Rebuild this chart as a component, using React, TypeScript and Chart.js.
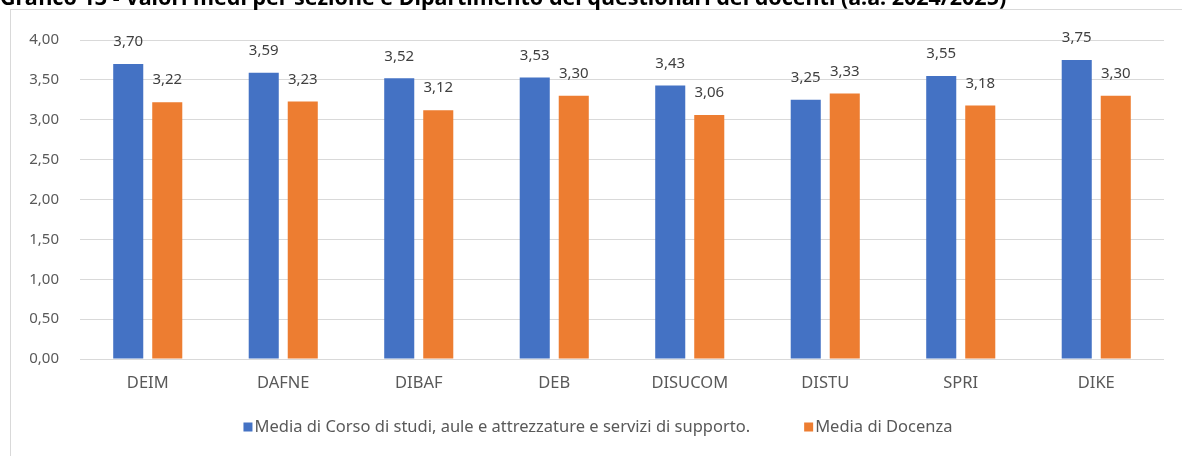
import React, { useEffect, useRef } from "react";
import { Chart, registerables } from "chart.js";

Chart.register(...registerables);

const TITLE = "Grafico 13 - Valori medi per sezione e Dipartimento dei questionari dei docenti (a.a. 2024/2025)";
const categories = ["DEIM", "DAFNE", "DIBAF", "DEB", "DISUCOM", "DISTU", "SPRI", "DIKE"];
const seriesNames = [
  "Media di Corso di studi, aule e attrezzature e servizi di supporto.",
  "Media di Docenza",
];
const corsoValues = [3.7, 3.59, 3.52, 3.53, 3.43, 3.25, 3.55, 3.75];
const docenzaValues = [3.22, 3.23, 3.12, 3.3, 3.06, 3.33, 3.18, 3.3];
const colors = ["#4472C4", "#ED7D31"];
const yMin = 0;
const yMax = 4;
const yStep = 0.5;

const FONT = "'Noto Sans', 'Open Sans', sans-serif";
const fmt = (v: number) => v.toFixed(2).replace(".", ",");

const dataLabelPlugin = {
  id: "dataLabels",
  afterDatasetsDraw(chart: any) {
    const ctx = chart.ctx;
    ctx.save();
    ctx.font = `15px ${FONT}`;
    ctx.fillStyle = "#404040";
    ctx.textAlign = "center";
    ctx.textBaseline = "middle";
    chart.data.datasets.forEach((ds: any, i: number) => {
      const meta = chart.getDatasetMeta(i);
      meta.data.forEach((bar: any, j: number) => {
        ctx.fillText(fmt(ds.data[j]), bar.x, bar.y - 22);
      });
    });
    ctx.restore();
  },
};

const legendPlugin = {
  id: "customLegend",
  afterDraw(chart: any) {
    const ctx = chart.ctx;
    ctx.save();
    ctx.font = `16.5px ${FONT}`;
    const box = 9;
    const boxGap = 11;
    const itemGap = 54;
    const items = chart.data.datasets.map((ds: any) => ({
      text: ds.label,
      color: ds.backgroundColor,
      w: ctx.measureText(ds.label).width,
    }));
    const total = items.reduce((s: number, it: any, i: number) => s + boxGap + it.w + (i > 0 ? itemGap : 0), 0);
    let x = chart.width / 2 + 1.5 - total / 2;
    const cy = chart.chartArea.bottom + 68;
    ctx.textBaseline = "middle";
    ctx.textAlign = "left";
    items.forEach((it: any, i: number) => {
      if (i > 0) x += itemGap;
      ctx.fillStyle = it.color;
      ctx.fillRect(x, cy - box / 2, box, box);
      ctx.fillStyle = "#595959";
      ctx.fillText(it.text, x + boxGap, cy);
      x += boxGap + it.w;
    });
    ctx.restore();
  },
};

export default function App() {
  const ref = useRef<HTMLCanvasElement | null>(null);

  useEffect(() => {
    if (!ref.current) return;
    const chart = new Chart(ref.current, {
      type: "bar",
      data: {
        labels: categories,
        datasets: [
          { label: seriesNames[0], data: corsoValues, backgroundColor: colors[0] },
          { label: seriesNames[1], data: docenzaValues, backgroundColor: colors[1] },
        ],
      },
      plugins: [dataLabelPlugin, legendPlugin],
      options: {
        animation: false,
        responsive: false,
        maintainAspectRatio: false,
        devicePixelRatio: 1,
        layout: { padding: { top: 29, right: 18, left: 0, bottom: 61 } },
        datasets: {
          bar: { categoryPercentage: 0.576, barPercentage: 0.77 },
        },
        scales: {
          x: {
            grid: { display: false, drawTicks: false },
            border: { display: false },
            ticks: { color: "#595959", font: { family: FONT, size: 16.5 }, padding: 14 },
            afterFit: (s: any) => { s.height = 36; },
          },
          y: {
            min: yMin,
            max: yMax,
            grid: { color: "#d9d9d9", lineWidth: 1, drawTicks: false },
            border: { display: false },
            ticks: {
              stepSize: yStep,
              color: "#595959",
              font: { family: FONT, size: 15 },
              padding: 21,
              callback: (v: any) => fmt(Number(v)),
            },
            afterFit: (s: any) => { s.width = 69; },
          },
        },
        plugins: {
          legend: { display: false },
          tooltip: { enabled: false },
          title: { display: false },
        },
      } as any,
    });
    return () => chart.destroy();
  }, []);

  return (
    <div style={{ position: "fixed", left: 0, top: 0, width: 1182, height: 456, overflow: "hidden", background: "#fff" }}>
      <div
        style={{
          position: "absolute",
          left: 10,
          top: 9,
          width: 1200,
          height: 470,
          border: "1px solid #d9d9d9",
          boxSizing: "border-box",
        }}
      />
      <canvas
        ref={ref}
        width={1171}
        height={446}
        style={{ position: "absolute", left: 11, top: 10, width: 1171, height: 446 }}
      />
      <div
        style={{
          position: "absolute",
          left: 0,
          top: -18.5,
          whiteSpace: "nowrap",
          font: `bold 21.5px ${FONT}`,
          color: "#000",
          zIndex: 2,
        }}
      >
        {TITLE}
      </div>
    </div>
  );
}
